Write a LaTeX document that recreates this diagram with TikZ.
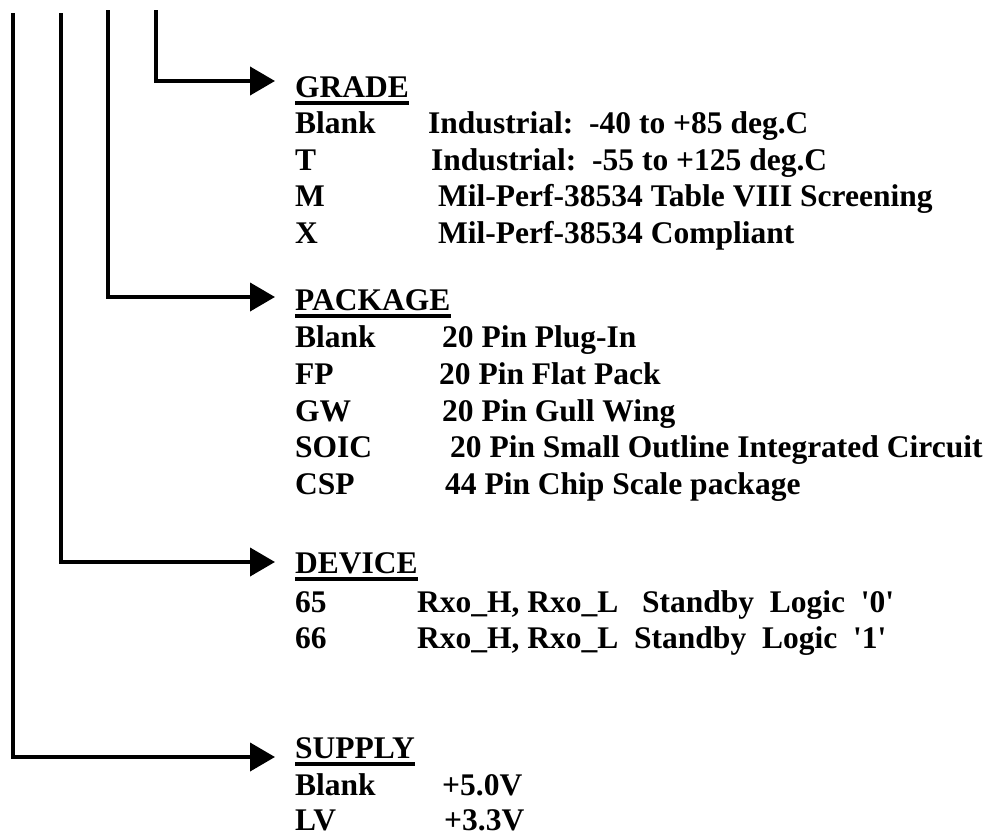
\documentclass[tikz,border=0pt]{standalone}
\usepackage{fontspec}
\setmainfont{Liberation Serif}[Ligatures=TeXOff]
\usetikzlibrary{arrows.meta}
\tikzset{
  txt/.style={anchor=base west, inner sep=0pt, font=\fontsize{31.5bp}{37bp}\selectfont\bfseries},
  uline/.style={line width=3.5bp},
  conn/.style={line width=4bp, line join=miter, -{Triangle[length=25bp,width=28bp]}},
}
\begin{document}
\begin{tikzpicture}[x=1bp,y=-1bp]
\useasboundingbox (0,0) rectangle (992,835);
% GRADE
\node[txt] (gh) at (295,97) {GRADE};
\draw[uline] ([yshift=-6bp]gh.base west) -- ([yshift=-6bp]gh.base east);
\node[txt] (g1k) at (295,133) {Blank};
\node[txt] (g1v) at (428,133) {Industrial:~~-40 to +85 deg.C};
\node[txt] (g2k) at (295,170) {T};
\node[txt] (g2v) at (431,170) {Industrial:~~-55 to +125 deg.C};
\node[txt] (g3k) at (295,206) {M};
\node[txt] (g3v) at (438,206) {Mil-Perf-38534 Table VIII Screening};
\node[txt] (g4k) at (295,243) {X};
\node[txt] (g4v) at (438,243) {Mil-Perf-38534 Compliant};
% PACKAGE
\node[txt] (ph) at (295,310) {PACKAGE};
\draw[uline] ([yshift=-6bp]ph.base west) -- ([yshift=-6bp]ph.base east);
\node[txt] (p1k) at (295,347) {Blank};
\node[txt] (p1v) at (442,347) {20 Pin Plug-In};
\node[txt] (p2k) at (295,384) {FP};
\node[txt] (p2v) at (439,384) {20 Pin Flat Pack};
\node[txt] (p3k) at (295,421) {GW};
\node[txt] (p3v) at (442,421) {20 Pin Gull Wing};
\node[txt] (p4k) at (295,457) {SOIC};
\node[txt] (p4v) at (450,457) {20 Pin Small Outline Integrated Circuit};
\node[txt] (p5k) at (295,494) {CSP};
\node[txt] (p5v) at (445,494) {44 Pin Chip Scale package};
% DEVICE
\node[txt] (dh) at (295,573) {DEVICE};
\draw[uline] ([yshift=-6bp]dh.base west) -- ([yshift=-6bp]dh.base east);
\node[txt] (d1k) at (295,612) {65};
\node[txt] (d1v) at (417,612) {Rxo\_H, Rxo\_L~~~Standby~~Logic~~'0'};
\node[txt] (d2k) at (295,648) {66};
\node[txt] (d2v) at (417,648) {Rxo\_H, Rxo\_L~~Standby~~Logic~~'1'};
% SUPPLY
\node[txt] (sh) at (295,758) {SUPPLY};
\draw[uline] ([yshift=-6bp]sh.base west) -- ([yshift=-6bp]sh.base east);
\node[txt] (s1k) at (295,795) {Blank};
\node[txt] (s1v) at (442,795) {+5.0V};
\node[txt] (s2k) at (295,830) {LV};
\node[txt] (s2v) at (444,830) {+3.3V};
% connectors
\coordinate (t1) at (13,13);
\coordinate (t2) at (61,13);
\coordinate (t3) at (108,10);
\coordinate (t4) at (156,10);
\coordinate (a1) at (275,757);
\coordinate (a2) at (275,562);
\coordinate (a3) at (275,297);
\coordinate (a4) at (275,81);
\draw[conn] (t1) |- (a1);
\draw[conn] (t2) |- (a2);
\draw[conn] (t3) |- (a3);
\draw[conn] (t4) |- (a4);
\end{tikzpicture}
\end{document}
